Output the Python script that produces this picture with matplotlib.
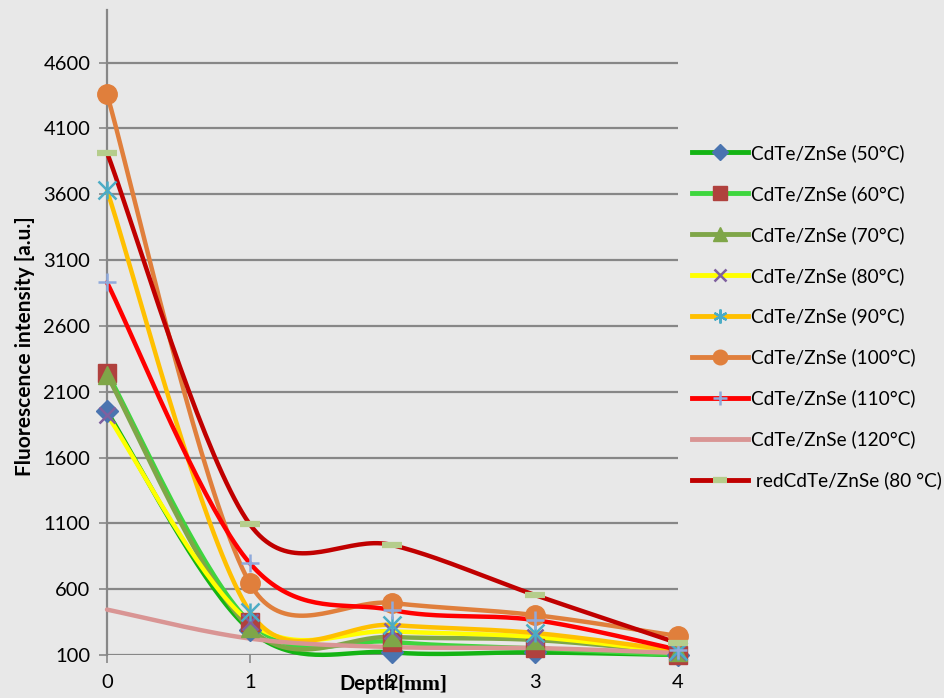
import numpy as np
import matplotlib
matplotlib.use("Agg")
import matplotlib.pyplot as plt
from matplotlib.lines import Line2D

plt.rcParams['font.family'] = ['Lato', 'DejaVu Sans']

depth = [0, 1, 2, 3, 4]
labels = ["CdTe/ZnSe (50°C)", "CdTe/ZnSe (60°C)", "CdTe/ZnSe (70°C)",
          "CdTe/ZnSe (80°C)", "CdTe/ZnSe (90°C)", "CdTe/ZnSe (100°C)",
          "CdTe/ZnSe (110°C)", "CdTe/ZnSe (120°C)", " redCdTe/ZnSe (80 °C)"]

s50 = [1950, 290, 120, 120, 100]
s60 = [2245, 350, 200, 150, 100]
s70 = [2225, 305, 237, 214, 120]
s80 = [1925, 350, 280, 237, 120]
s90 = [3630, 430, 328, 267, 130]
s100 = [4360, 646, 495, 403, 244]
s110 = [2930, 798, 441, 365, 140]
s120 = [445, 225, 160, 153, 115]
sred80 = [3917, 1094, 935, 555, 190]

series = [s50, s60, s70, s80, s90, s100, s110, s120, sred80]
line_colors = ["#14B414", "#3ED63E", "#7FA648", "#FFFF00", "#FFC000",
               "#E07F3C", "#FF0000", "#D99594", "#C00000"]
marker_styles = [("D", "#4A74B0", 11, 1), ("s", "#B0413E", 13, 1), ("^", "#7FA648", 13, 1),
                 ("x", "#7F609F", 11, 1.8), ("*", "#4BACC6", 0, 0), ("o", "#E07F3C", 14, 1),
                 ("+", "#8FAADC", 13, 1.8), (None, None, 0, 0), ("_", "#B5CD8C", 14, 4.5)]

yticks = [100, 600, 1100, 1600, 2100, 2600, 3100, 3600, 4100, 4600]

# approximate pixel scaling used for the Excel-like smoothing
SX, SY = 142.75, 0.1318


def smooth(xs, ys, n=40, k=0.5):
    P = np.column_stack([np.asarray(xs, float) * SX, np.asarray(ys, float) * SY])
    out = []
    m = len(P)
    for i in range(m - 1):
        p0 = P[i - 1] if i > 0 else P[i]
        p1 = P[i]
        p2 = P[i + 1]
        p3 = P[i + 2] if i + 2 < m else P[i + 1]
        chord = np.linalg.norm(p2 - p1)
        d1 = (p2 - p0) / 6.0
        d2 = (p3 - p1) / 6.0
        for d in (d1, d2):
            L = np.linalg.norm(d)
            if L > k * chord and L > 0:
                d *= k * chord / L
        c1 = p1 + d1
        c2 = p2 - d2
        t = np.linspace(0, 1, n)[:, None]
        seg = ((1 - t) ** 3) * p1 + 3 * ((1 - t) ** 2) * t * c1 + 3 * (1 - t) * t ** 2 * c2 + t ** 3 * p2
        out.append(seg if i == 0 else seg[1:])
    out = np.vstack(out)
    return out[:, 0] / SX, out[:, 1] / SY


fig = plt.figure(figsize=(9.45, 6.98), dpi=100)
bg = "#E8E8E8"
fig.patch.set_facecolor(bg)
ax = fig.add_axes([107 / 945, 1 - 655 / 698, (678 - 107) / 945, (655 - 10) / 698])
ax.set_facecolor("none")

ax.set_xlim(0, 4)
ax.set_ylim(100, 5000)
ax.set_yticks(yticks)
ax.set_xticks(depth)
ax.yaxis.grid(True, color="#878787", lw=1.6)
ax.set_axisbelow(True)
for sp in ["top", "right", "bottom"]:
    ax.spines[sp].set_visible(False)
ax.spines["left"].set_color("#878787")
ax.spines["left"].set_linewidth(1.6)
ax.tick_params(axis="both", colors="#878787", labelcolor="black", labelsize=14.5, width=1.2, length=6)
ax.tick_params(axis="x", pad=8)
ax.tick_params(axis="y", pad=6)

handles = []
for ys, lc, (mk, mc, ms, mew), lab in zip(series, line_colors, marker_styles, labels):
    sx, sy = smooth(depth, ys)
    ax.plot(sx, sy, color=lc, lw=3.2, solid_capstyle="round", zorder=3, clip_on=False)
    if mk == "*":
        ax.plot(depth, ys, ls="none", marker="x", ms=13, mew=1.8, color="#4BACC6", zorder=4, clip_on=False)
        ax.plot(depth, ys, ls="none", marker="|", ms=13, mew=1.8, color="#4BACC6", zorder=4, clip_on=False)
        h = Line2D([], [], color=lc, lw=3.5, marker=(6, 2, 0), ms=10, mew=1.6, mec="#4BACC6")
    elif mk is not None:
        ax.plot(depth, ys, ls="none", marker=mk, ms=ms, mew=mew, color=mc, mec=mc, zorder=4, clip_on=False)
        h = Line2D([], [], color=lc, lw=3.5, marker=mk, ms=ms * 0.75, mew=mew, mfc=mc, mec=mc)
    else:
        h = Line2D([], [], color=lc, lw=3.5)
    handles.append(h)

fig.text(25 / 945, 1 - 346 / 698, "Fluorescence intensity [a.u.]", fontsize=15, fontweight="bold",
         rotation=90, va="center", ha="center")
fig.text(339 / 945, 1 - 684 / 698, "Depth", fontsize=14.5, fontweight="bold", va="center", ha="left")
fig.text(397 / 945, 1 - 684 / 698, "[mm]", fontsize=15.5, fontweight="bold", va="center", ha="left",
         family="Liberation Serif")

leg = fig.legend(handles=handles, labels=labels, loc="upper left",
                 bbox_to_anchor=(692 / 945, 1 - 144 / 698), frameon=False,
                 fontsize=13.7, handlelength=2.95, handletextpad=0.15, labelspacing=1.21,
                 borderaxespad=0, borderpad=0)

fig.savefig("out.png", dpi=100, facecolor=bg)
